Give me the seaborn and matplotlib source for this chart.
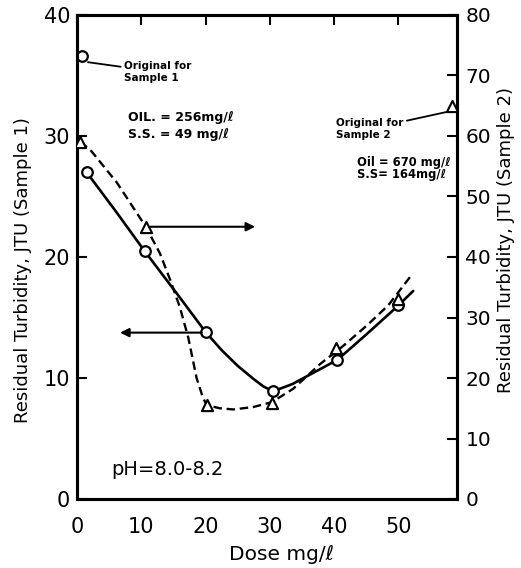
import matplotlib
matplotlib.use("Agg")
import matplotlib.pyplot as plt
import seaborn as sns

# ---- data ----
sample1_dose = [1.5, 10.5, 20.0, 30.5, 40.5, 50.0]
sample1_turbidity = [27.0, 20.5, 13.8, 8.9, 11.5, 16.0]
sample2_dose = [0.5, 10.7, 20.2, 30.3, 40.3, 50.0]
sample2_turbidity = [59.0, 45.0, 15.5, 15.8, 25.0, 33.0]

sample1_original_dose = [0.8]
sample1_original_turbidity = [36.6]
sample2_original_dose = [58.4]
sample2_original_turbidity = [65.0]

# fitted curves as drawn in the reference
curve1_dose = [1.5, 6.0, 10.5, 15.5, 20.0, 22.5, 25.0, 27.5, 29.0, 30.5, 33.5, 37.0, 40.5, 45.0, 50.0, 52.3]
curve1_turbidity = [27.0, 23.8, 20.5, 17.0, 13.8, 12.3, 11.0, 9.9, 9.3, 8.9, 9.5, 10.5, 11.5, 13.6, 16.0, 17.2]
curve2_dose = [0.5, 2.0, 6.2, 10.7, 12.9, 14.5, 16.0, 17.3, 18.6, 19.6, 20.2, 22.2, 24.3, 27.4, 30.3, 33.6, 37.8, 41.4, 45.1, 48.4, 51.8]
curve2_turbidity = [59.0, 57.8, 52.3, 45.0, 40.6, 36.2, 31.7, 26.7, 20.0, 16.7, 15.5, 15.0, 14.8, 15.2, 16.0, 18.2, 22.3, 25.3, 28.7, 32.0, 36.7]

x_ticks = [0, 10, 20, 30, 40, 50]
left_ticks = [0, 10, 20, 30, 40]
right_ticks = [0, 10, 20, 30, 40, 50, 60, 70, 80]

sns.set_style("white")
plt.rcParams['font.family'] = ['DejaVu Sans']
plt.rcParams['text.color'] = 'black'
plt.rcParams['axes.labelcolor'] = 'black'
plt.rcParams['xtick.color'] = 'black'
plt.rcParams['ytick.color'] = 'black'

fig = plt.figure(figsize=(5.21, 5.68), dpi=100)
ax = fig.add_axes([77 / 521, 1 - 499 / 568, 380 / 521, 484 / 568])
ax2 = ax.twinx()

# sample 1 (left axis)
sns.lineplot(x=curve1_dose, y=curve1_turbidity, ax=ax, color='black', lw=1.9,
             sort=False, estimator=None, zorder=2)
sns.scatterplot(x=sample1_dose, y=sample1_turbidity, ax=ax, marker='o', s=58,
                facecolor='white', edgecolor='black', linewidth=1.6, zorder=3)
sns.scatterplot(x=sample1_original_dose, y=sample1_original_turbidity, ax=ax, marker='o', s=58,
                facecolor='white', edgecolor='black', linewidth=1.6, zorder=3, clip_on=False)

# sample 2 (right axis)
sns.lineplot(x=curve2_dose, y=curve2_turbidity, ax=ax2, color='black', lw=1.7,
             linestyle=(0, (3.6, 2.0)), sort=False, estimator=None, zorder=2)
sns.scatterplot(x=sample2_dose, y=sample2_turbidity, ax=ax2, marker='^', s=65,
                facecolor='white', edgecolor='black', linewidth=1.5, zorder=3)
sns.scatterplot(x=sample2_original_dose, y=sample2_original_turbidity, ax=ax2, marker='^', s=65,
                facecolor='white', edgecolor='black', linewidth=1.5, zorder=3, clip_on=False)

ax.set_xlim(0, 59.1)
ax.set_ylim(0, 40)
ax2.set_ylim(0, 80)
ax.set_xticks(x_ticks)
ax.set_yticks(left_ticks)
ax2.set_yticks(right_ticks)

ax.tick_params(axis='x', direction='in', top=True, length=7, width=1.5, pad=13,
               labelsize=15, colors='black')
ax.tick_params(axis='y', direction='in', length=7, width=1.5, pad=5,
               labelsize=15, colors='black')
ax2.tick_params(axis='y', direction='in', length=7, width=1.5, pad=6,
                labelsize=14.5, colors='black')

for a in (ax, ax2):
    for sp in a.spines.values():
        sp.set_visible(True)
        sp.set_linewidth(2.2)
        sp.set_color('black')

ax.set_xlabel("Dose mg/ℓ", fontsize=14.5, color='black')
ax.xaxis.set_label_coords(0.539, -0.095)
ax.set_ylabel("Residual Turbidity, JTU (Sample 1)", fontsize=13, color='black')
ax.yaxis.set_label_coords(-0.118, 0.473)
ax2.set_ylabel("Residual Turbidity, JTU (Sample 2)", fontsize=13, rotation=90, color='black')
ax2.yaxis.set_label_coords(1.105, 0.535)

# annotations
ax.annotate("Original for\nSample 1", xy=(1.7, 36.1), xytext=(7.3, 35.3),
            fontsize=7.5, fontweight='bold', ha='left', va='center', color='black',
            arrowprops=dict(arrowstyle='-', lw=1.3, color='black', shrinkA=0, shrinkB=0))
ax.text(7.9, 31.5, "OIL. = 256mg/ℓ", fontsize=9, fontweight='bold', ha='left', va='center', color='black')
ax.text(7.9, 30.1, "S.S. = 49 mg/ℓ", fontsize=9, fontweight='bold', ha='left', va='center', color='black')

ax2.annotate("Original for\nSample 2", xy=(57.6, 64.0), xytext=(50.8, 61.2),
             fontsize=7.5, fontweight='bold', ha='right', va='center', color='black',
             multialignment='left',
             arrowprops=dict(arrowstyle='-', lw=1.3, color='black', shrinkA=0, shrinkB=0))
ax.text(43.5, 27.85, "Oil = 670 mg/ℓ", fontsize=8.3, fontweight='bold', ha='left', va='center', color='black')
ax.text(43.5, 26.85, "S.S= 164mg/ℓ", fontsize=8.3, fontweight='bold', ha='left', va='center', color='black')

ax.text(5.4, 2.4, "pH=8.0-8.2", fontsize=14, ha='left', va='center', color='black')

# direction arrows
ax2.annotate("", xy=(27.7, 45.0), xytext=(11.4, 45.0),
             arrowprops=dict(arrowstyle='-|>', mutation_scale=13, lw=1.5, color='black',
                             shrinkA=0, shrinkB=0))
ax.annotate("", xy=(6.7, 13.75), xytext=(19.4, 13.75),
            arrowprops=dict(arrowstyle='-|>', mutation_scale=13, lw=1.5, color='black',
                            shrinkA=0, shrinkB=0))

fig.savefig("out.png", dpi=100)
